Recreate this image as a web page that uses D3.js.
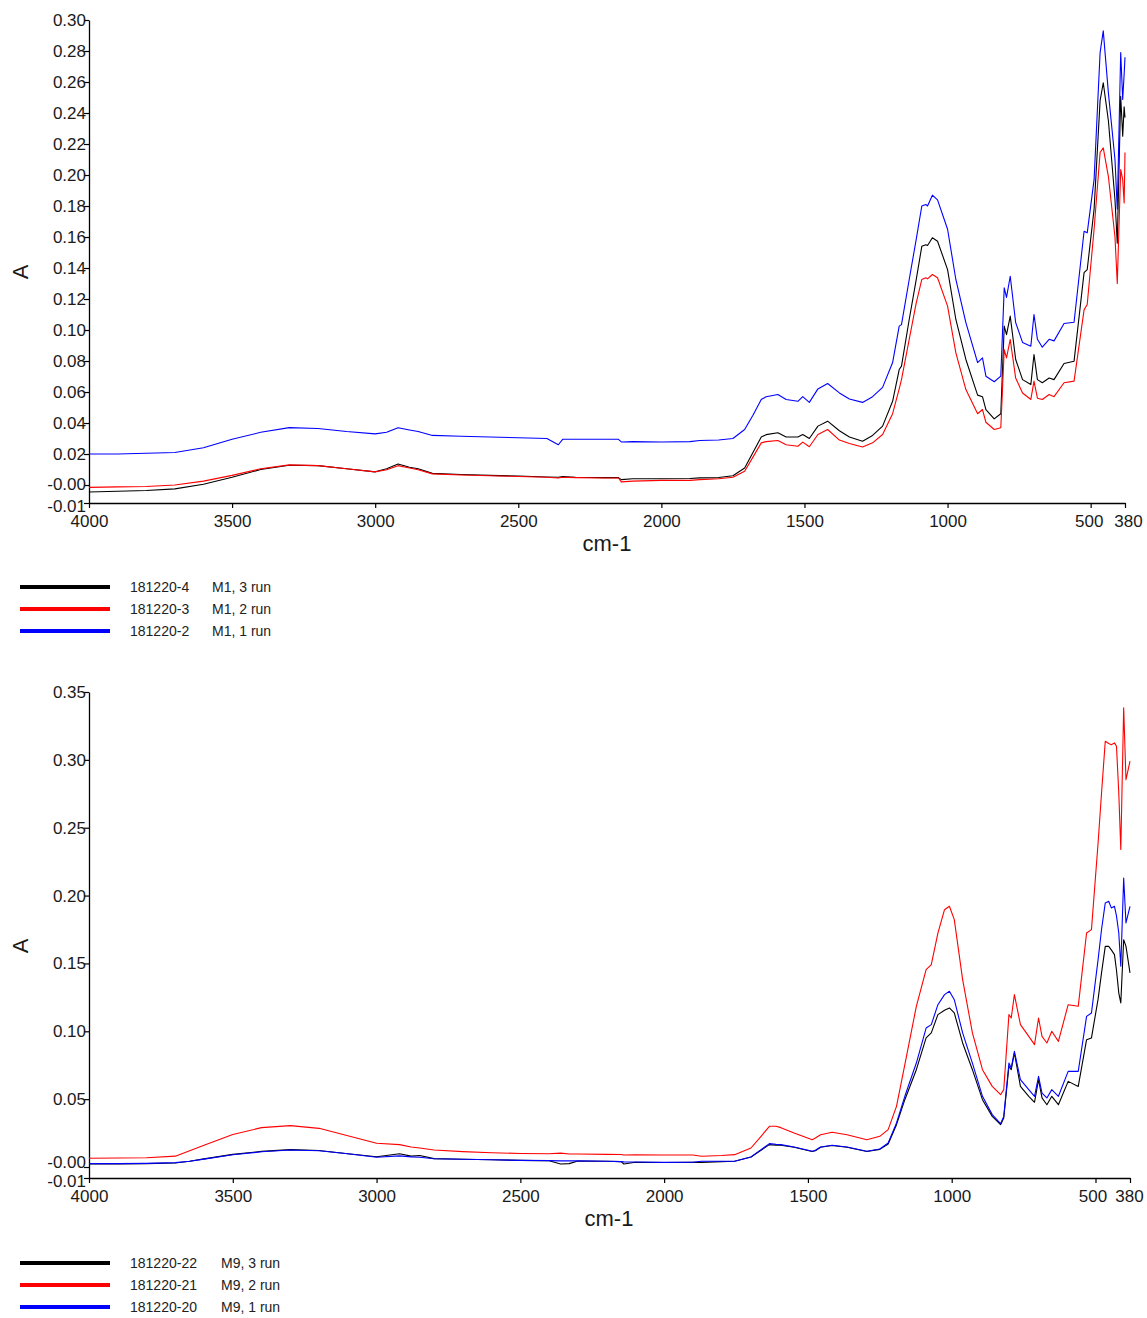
<!DOCTYPE html>
<html>
<head>
<meta charset="utf-8">
<script src="https://cdn.jsdelivr.net/npm/d3@7"></script>
<style>
  body { margin: 0; background: #fff; }
  svg { display: block; font-family: "Liberation Sans", Arial, sans-serif; }
</style>
</head>
<body>
<svg id="chart" width="1147" height="1318"></svg>
<script>
// ---- top panel (M1) ----
const wn1 = [4000,3900,3800,3700,3600,3500,3400,3300,3200,3100,3000,2960,2920,2880,2850,2800,2700,2600,2500,2400,2360,2345,2300,2200,2150,2140,2100,2000,1900,1866,1800,1750,1709,1680,1651,1634,1593,1564,1523,1506,1483,1453,1419,1378,1343,1297,1262,1227,1192,1169,1161,1134,1110,1090,1076,1070,1053,1035,1000,971,936,895,878,866,837,814,802,794,781,762,738,709,698,686,669,645,628,593,558,523,512,488,467,456,438,415,407,395,388,383,380];
const m1run3 = [-0.0045,-0.004,-0.0035,-0.0025,0.0005,0.005,0.010,0.0128,0.0125,0.0105,0.0085,0.0105,0.0135,0.0115,0.0105,0.0075,0.0068,0.0062,0.0058,0.0052,0.005,0.0055,0.005,0.0048,0.0048,0.0035,0.004,0.004,0.0042,0.0046,0.0048,0.006,0.011,0.021,0.031,0.0325,0.0337,0.031,0.031,0.0326,0.030,0.038,0.0412,0.035,0.031,0.0283,0.032,0.038,0.054,0.0745,0.0767,0.1068,0.132,0.154,0.155,0.1545,0.1595,0.1573,0.139,0.1068,0.081,0.058,0.057,0.0487,0.0427,0.046,0.1025,0.097,0.109,0.081,0.068,0.0648,0.0842,0.068,0.066,0.069,0.068,0.0784,0.0799,0.137,0.139,0.178,0.248,0.2595,0.235,0.184,0.156,0.2508,0.225,0.244,0.237];
const m1run2 = [-0.0015,-0.0012,-0.001,0.0,0.0025,0.0062,0.0105,0.013,0.0125,0.0105,0.0085,0.0098,0.0125,0.011,0.0098,0.0072,0.0065,0.006,0.0055,0.005,0.0045,0.005,0.0048,0.0045,0.0045,0.002,0.0025,0.003,0.003,0.0035,0.004,0.005,0.0089,0.018,0.0272,0.028,0.0287,0.026,0.025,0.0277,0.0247,0.0326,0.0358,0.029,0.0268,0.0245,0.0272,0.0326,0.046,0.062,0.068,0.0939,0.117,0.1326,0.1337,0.133,0.1358,0.1337,0.1154,0.0853,0.0616,0.046,0.0487,0.0405,0.0358,0.037,0.0874,0.082,0.0939,0.069,0.0594,0.0552,0.067,0.056,0.0552,0.0584,0.057,0.066,0.067,0.113,0.1165,0.165,0.2145,0.2175,0.199,0.160,0.130,0.2035,0.197,0.182,0.2145];
const m1run1 = [0.020,0.020,0.0205,0.021,0.024,0.0295,0.034,0.037,0.0365,0.0345,0.033,0.034,0.037,0.0355,0.0345,0.032,0.0315,0.031,0.0305,0.030,0.026,0.0295,0.0295,0.0295,0.0295,0.0278,0.028,0.0278,0.028,0.0287,0.029,0.030,0.0358,0.045,0.0552,0.057,0.0584,0.0552,0.054,0.057,0.0533,0.062,0.0655,0.0594,0.0555,0.0533,0.057,0.063,0.079,0.1025,0.1035,0.1326,0.158,0.180,0.181,0.180,0.187,0.184,0.165,0.1326,0.1048,0.079,0.082,0.0702,0.0666,0.0702,0.1272,0.121,0.1347,0.1048,0.092,0.0896,0.110,0.094,0.0889,0.094,0.093,0.1042,0.105,0.1637,0.1627,0.197,0.279,0.293,0.253,0.210,0.178,0.279,0.2487,0.265,0.276];
const legendIds1 = ["181220-4", "181220-3", "181220-2"];
const legendNames1 = ["M1, 3 run", "M1, 2 run", "M1, 1 run"];

// ---- bottom panel (M9) ----
const wn2 = [4000,3900,3800,3700,3650,3600,3500,3400,3300,3200,3100,3000,2920,2880,2850,2800,2700,2600,2500,2400,2360,2330,2300,2200,2150,2140,2100,2000,1900,1870,1800,1755,1698,1663,1634,1611,1594,1548,1485,1474,1456,1416,1364,1295,1250,1221,1192,1163,1123,1089,1071,1048,1025,1008,991,962,928,893,859,830,819,801,793,782,761,732,712,698,686,669,652,629,595,560,531,514,491,479,466,454,445,434,427,419,412,402,394,380];
const m9run3 = [0.0022,0.0023,0.0025,0.003,0.0042,0.006,0.0093,0.0115,0.0128,0.0122,0.0098,0.0075,0.0098,0.008,0.0085,0.0062,0.0057,0.0053,0.0049,0.0046,0.0022,0.0025,0.0044,0.0042,0.004,0.0022,0.0035,0.0033,0.0034,0.0034,0.004,0.0042,0.0074,0.0123,0.0165,0.016,0.016,0.0145,0.0114,0.012,0.0145,0.0158,0.0145,0.0114,0.013,0.017,0.0312,0.0496,0.0717,0.0951,0.0988,0.1123,0.1155,0.1172,0.1135,0.0914,0.0717,0.0496,0.0373,0.0312,0.0361,0.0742,0.0717,0.084,0.0594,0.0521,0.0477,0.0644,0.0509,0.0459,0.0521,0.0459,0.0631,0.0594,0.0938,0.0951,0.1237,0.143,0.1626,0.1626,0.160,0.1565,0.145,0.1282,0.1209,0.1675,0.1626,0.143];
const m9run2 = [0.0065,0.0066,0.0068,0.008,0.012,0.016,0.024,0.029,0.0305,0.0285,0.023,0.0175,0.0165,0.0148,0.014,0.0125,0.0113,0.0105,0.010,0.0098,0.0102,0.0096,0.0096,0.0093,0.0092,0.0088,0.009,0.0088,0.0088,0.0079,0.0085,0.0091,0.014,0.0226,0.030,0.030,0.029,0.0251,0.0201,0.0214,0.0238,0.0256,0.0238,0.0201,0.0226,0.0275,0.0447,0.0754,0.1184,0.1454,0.1491,0.1724,0.1896,0.1921,0.1823,0.1381,0.0988,0.0717,0.0594,0.0533,0.057,0.1123,0.1098,0.127,0.1049,0.0963,0.0902,0.1098,0.0963,0.0914,0.100,0.0926,0.1196,0.1184,0.1724,0.1749,0.2388,0.2756,0.3137,0.312,0.3112,0.3125,0.310,0.2756,0.2339,0.3383,0.2854,0.299];
const m9run1 = [0.0025,0.0025,0.0027,0.0032,0.0042,0.0058,0.009,0.0112,0.0125,0.012,0.0098,0.0072,0.0082,0.0075,0.0072,0.0061,0.0057,0.0053,0.0049,0.0047,0.0045,0.0045,0.0045,0.0042,0.004,0.0038,0.0037,0.0034,0.0035,0.0042,0.0042,0.0042,0.0074,0.0128,0.0172,0.0167,0.0165,0.0147,0.0116,0.0123,0.0147,0.016,0.0147,0.0116,0.0133,0.0177,0.0324,0.0521,0.0766,0.1024,0.1049,0.1196,0.127,0.1295,0.1233,0.0988,0.0766,0.0521,0.0386,0.0319,0.0373,0.0766,0.073,0.0852,0.0644,0.057,0.0521,0.0668,0.0545,0.0509,0.057,0.0521,0.0705,0.0705,0.111,0.1135,0.1528,0.175,0.1946,0.1958,0.1909,0.1921,0.185,0.1724,0.1479,0.213,0.1798,0.1921];
const legendIds2 = ["181220-22", "181220-21", "181220-20"];
const legendNames2 = ["M9, 3 run", "M9, 2 run", "M9, 1 run"];

// axis ticks
const xTicks = [4000, 3500, 3000, 2500, 2000, 1500, 1000, 500, 380];
const yMin1 = -0.0116, yMax1 = 0.30;
const yTicks1 = [yMin1, 0, 0.02, 0.04, 0.06, 0.08, 0.10, 0.12, 0.14, 0.16, 0.18, 0.20, 0.22, 0.24, 0.26, 0.28, 0.30];
const yTickLabels1 = ["-0.01", "-0.00", "0.02", "0.04", "0.06", "0.08", "0.10", "0.12", "0.14", "0.16", "0.18", "0.20", "0.22", "0.24", "0.26", "0.28", "0.30"];
const yMin2 = -0.0081, yMax2 = 0.35;
const yTicks2 = [yMin2, 0, 0.05, 0.10, 0.15, 0.20, 0.25, 0.30, 0.35];
const yTickLabels2 = ["-0.01", "-0.00", "0.05", "0.10", "0.15", "0.20", "0.25", "0.30", "0.35"];

const colors = ["#000000", "#ff0000", "#0000ff"];

const svg = d3.select("#chart");

function drawPanel(opt) {
  const x = d3.scaleLinear().domain([4000, 380]).range([89, opt.right]);
  const y = d3.scaleLinear().domain([opt.yMin, opt.yMax]).range([opt.bottom, opt.top]);
  const g = svg.append("g");

  const xAxis = g.append("g")
    .attr("transform", `translate(0,${opt.bottom})`)
    .call(d3.axisBottom(x).tickValues(xTicks).tickFormat(d3.format("d")).tickSize(5).tickSizeOuter(0));
  const yAxis = g.append("g")
    .attr("transform", "translate(89,0)")
    .call(d3.axisLeft(y).tickValues(opt.yTicks)
      .tickFormat((d, i) => opt.yLabels[i]).tickSize(5).tickSizeOuter(0));

  [xAxis, yAxis].forEach(a => {
    a.select(".domain").attr("stroke", "#000").attr("stroke-width", 1.3);
    a.selectAll(".tick line").attr("stroke", "#000").attr("stroke-width", 1.2);
    a.selectAll(".tick text").attr("fill", "#1a1a1a").style("font-size", "17px")
      .style("font-family", "'Liberation Sans', Arial, sans-serif");
  });
  xAxis.selectAll(".tick text").attr("dy", "0.95em");
  // "500" and "380" crowd together at the right end, as in the original
  xAxis.selectAll(".tick text").filter(d => d === 380).attr("dx", opt.dx380);
  xAxis.selectAll(".tick text").filter(d => d === 500).attr("dx", opt.dx500);
  yAxis.selectAll(".tick text").attr("x", -3);
  // the two lowest labels are pushed apart, as in the original
  yAxis.selectAll(".tick text").filter(d => d === 0).attr("dy", opt.zeroDy);
  yAxis.selectAll(".tick text").filter(d => d === opt.yMin).attr("dy", "0.5em");

  const line = d3.line().x(d => x(d[0])).y(d => y(d[1]));
  opt.series.forEach((s, i) => {
    g.append("path")
      .datum(opt.wn.map((w, k) => [w, s[k]]))
      .attr("fill", "none")
      .attr("stroke", colors[i])
      .attr("stroke-width", 1.1)
      .attr("stroke-linejoin", "round")
      .attr("d", line);
  });

  // axis titles
  g.append("text")
    .attr("transform", `translate(28,${opt.aY}) rotate(-90)`)
    .attr("text-anchor", "middle")
    .style("font-size", "22px")
    .attr("fill", "#1a1a1a")
    .text("A");
  g.append("text")
    .attr("x", opt.cmX).attr("y", opt.bottom + 48)
    .attr("text-anchor", "middle")
    .style("font-size", "22px")
    .attr("fill", "#1a1a1a")
    .text("cm-1");

  // legend
  const leg = g.append("g");
  opt.ids.forEach((id, i) => {
    const ly = opt.legY + i * 22;
    leg.append("line").attr("x1", 20).attr("x2", 110).attr("y1", ly).attr("y2", ly)
      .attr("stroke", colors[i]).attr("stroke-width", 4);
    leg.append("text").attr("x", 130).attr("y", ly + 5).style("font-size", "14px")
      .attr("fill", "#222").text(id);
    leg.append("text").attr("x", opt.nameX).attr("y", ly + 5).style("font-size", "14px")
      .attr("fill", "#222").text(opt.names[i]);
  });
}

drawPanel({
  wn: wn1, series: [m1run3, m1run2, m1run1],
  yMin: yMin1, yMax: yMax1, yTicks: yTicks1, yLabels: yTickLabels1,
  top: 20, bottom: 503, right: 1125, aY: 272, cmX: 607, zeroDy: "0.25em",
  dx380: 3, dx500: -2,
  ids: legendIds1, names: legendNames1, legY: 587, nameX: 212
});

drawPanel({
  wn: wn2, series: [m9run3, m9run2, m9run1],
  yMin: yMin2, yMax: yMax2, yTicks: yTicks2, yLabels: yTickLabels2,
  top: 692, bottom: 1178, right: 1130, aY: 946, cmX: 609, zeroDy: "0.02em",
  dx380: -1, dx500: -3,
  ids: legendIds2, names: legendNames2, legY: 1263, nameX: 221
});
</script>
</body>
</html>
